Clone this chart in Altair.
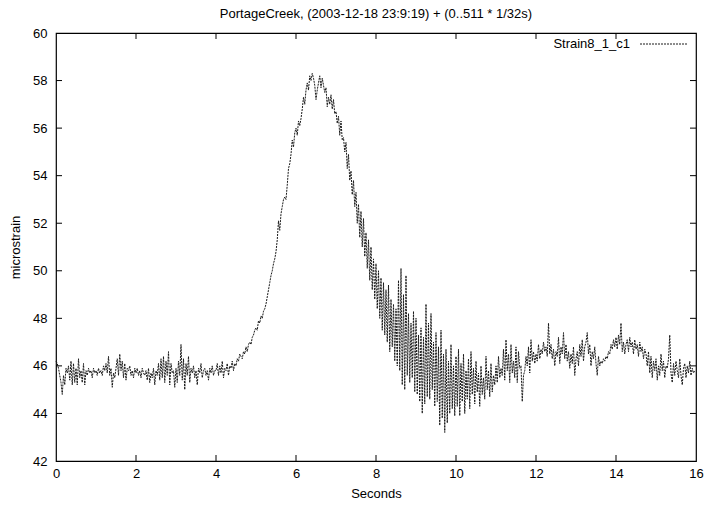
import altair as alt
import pandas as pd

# Strain gauge Strain8_1_c1, sampled every 1/32 s (512 samples, one row per second)
strain_rows = [
    [46.2, 46.1, 45.9, 45.6, 45.3, 44.8, 45.6, 45.2,
     45.9, 45.7, 46.0, 45.4, 46.2, 45.2, 46.1, 45.3,
     45.9, 45.2, 46.3, 45.5, 45.8, 45.3, 46.1, 45.2,
     45.8, 45.6, 45.9, 45.7, 45.8, 45.5, 45.9, 45.7],
    [45.8, 45.6, 45.9, 45.7, 45.8, 45.6, 46.0, 45.8,
     46.1, 45.7, 46.4, 45.6, 45.9, 45.1, 45.7, 45.5,
     45.9, 46.3, 45.6, 46.5, 45.8, 46.2, 45.5, 46.1,
     45.4, 45.9, 45.8, 46.0, 45.6, 45.8, 45.5, 45.9],
    [45.7, 45.9, 45.6, 45.8, 45.5, 45.9, 45.7, 45.6,
     45.8, 45.4, 45.9, 45.3, 45.7, 45.5, 45.9, 45.2,
     45.8, 45.6, 46.1, 45.4, 46.3, 45.5, 46.4, 45.3,
     46.2, 45.6, 46.6, 45.2, 46.1, 45.7, 45.8, 45.1],
    [45.9, 45.3, 46.2, 45.6, 46.9, 45.4, 46.3, 45.0,
     46.1, 45.6, 46.4, 45.3, 45.9, 45.7, 46.0, 45.5,
     45.8, 45.2, 45.9, 45.7, 46.1, 45.5, 45.8, 45.9,
     45.6, 45.8, 45.4, 45.9, 45.7, 46.0, 45.6, 45.8],
    [45.8, 46.1, 45.6, 46.0, 45.7, 46.2, 45.5, 45.9,
     45.8, 46.1, 45.6, 46.0, 45.9, 46.2, 45.8, 46.1,
     46.0, 46.3, 46.2, 46.5, 46.4, 46.3, 46.6, 46.5,
     46.8, 46.6, 46.9, 47.0, 46.9, 47.2, 47.3, 47.5],
    [47.6, 47.5, 47.9, 47.8, 48.1, 48.0, 48.3, 48.4,
     48.6, 48.9, 49.2, 49.5, 49.8, 50.0, 50.3, 50.5,
     50.8, 51.3, 52.1, 51.7, 52.4, 52.7, 53.0, 53.1,
     53.0, 53.6, 54.3, 54.5, 54.9, 55.5, 55.2, 55.8],
    [56.0, 55.7, 56.3, 56.1, 56.4, 56.8, 57.3, 57.0,
     57.6, 57.9, 57.6, 58.2, 58.0, 58.3, 58.1, 57.8,
     57.2, 57.6, 57.9, 58.2, 57.7, 58.1, 57.8, 57.5,
     57.7, 56.9, 57.3, 57.0, 57.4, 56.8, 57.2, 56.6],
    [56.7, 56.2, 56.5, 55.7, 56.3, 55.5, 55.6, 55.0,
     55.4, 54.3, 54.9, 53.8, 54.2, 53.2, 53.8, 52.7,
     53.3, 52.0, 52.8, 51.4, 52.5, 51.0, 52.2, 50.6,
     51.6, 50.1, 51.3, 49.6, 51.0, 49.2, 50.5, 48.8],
    [50.3, 48.4, 50.0, 48.0, 49.7, 47.5, 49.5, 47.3,
     49.2, 47.0, 49.4, 46.6, 48.8, 46.8, 48.6, 46.2,
     48.4, 46.0, 49.6, 45.8, 50.1, 45.2, 49.0, 45.0,
     49.8, 45.6, 48.2, 45.3, 47.8, 45.5, 48.3, 44.9],
    [48.0, 44.8, 47.3, 44.5, 47.6, 44.0, 47.2, 44.4,
     48.6, 44.7, 47.8, 44.6, 48.2, 45.0, 47.0, 44.3,
     47.4, 44.5, 46.8, 43.5, 47.5, 43.8, 46.5, 43.2,
     46.7, 43.6, 46.2, 44.0, 46.9, 44.2, 46.0, 43.9],
    [46.4, 44.3, 46.7, 43.9, 46.1, 44.5, 46.5, 44.0,
     45.8, 44.6, 46.3, 44.2, 46.6, 44.8, 45.9, 44.4,
     46.2, 44.9, 45.7, 44.3, 46.0, 44.8, 45.5, 44.6,
     46.4, 45.0, 45.8, 44.7, 46.1, 44.9, 45.6, 45.2],
    [46.0, 45.3, 46.4, 45.5, 45.9, 45.6, 46.7, 45.4,
     47.1, 45.8, 46.5, 45.3, 46.9, 45.7, 46.2, 45.5,
     46.8, 45.3, 46.6, 45.9, 46.0, 44.5, 45.6, 45.8,
     46.4, 46.0, 46.8, 45.7, 47.1, 46.2, 46.6, 46.1],
    [46.5, 46.2, 46.9, 46.3, 46.7, 46.5, 47.0, 46.6,
     46.8, 46.4, 47.8, 46.5, 46.9, 46.3, 46.7, 46.0,
     46.6, 46.4, 47.2, 46.1, 46.8, 46.5, 47.4, 46.3,
     46.9, 46.2, 46.6, 45.9, 46.5, 46.1, 46.8, 45.6],
    [46.3, 46.6, 46.0, 46.9, 46.4, 47.1, 46.2, 46.8,
     47.0, 47.4, 46.5, 46.9, 46.0, 46.6, 46.3, 46.8,
     46.1, 45.6, 46.4, 46.0, 46.2, 46.1, 46.3, 46.2,
     46.4, 46.3, 46.6, 46.5, 46.9, 46.7, 47.1, 46.8],
    [47.2, 46.7, 47.3, 46.9, 47.8, 46.6, 47.0, 46.5,
     46.9, 47.1, 46.6, 47.2, 46.8, 47.0, 46.5, 47.1,
     46.7, 46.9, 46.4, 47.0, 46.6, 46.8, 46.3, 46.7,
     46.5, 46.0, 46.6, 45.7, 46.4, 45.5, 46.2, 45.8],
    [46.3, 45.4, 46.0, 45.6, 46.5, 45.8, 46.2, 45.5,
     46.0, 45.9, 46.3, 47.3, 45.7, 45.3, 46.1, 45.6,
     46.2, 45.8, 45.5, 46.3, 45.6, 45.2, 45.9, 46.1,
     45.5, 46.0, 45.7, 46.2, 45.6, 45.9, 45.7, 45.8],
]
strain = [v for row in strain_rows for v in row]
seconds = [i / 32 for i in range(len(strain))]
series_name = "Strain8_1_c1"

x_ticks = [0, 2, 4, 6, 8, 10, 12, 14, 16]
y_ticks = [42, 44, 46, 48, 50, 52, 54, 56, 58, 60]
x_inner_ticks = [2, 4, 6, 8, 10, 12, 14]
y_inner_ticks = [44, 46, 48, 50, 52, 54, 56, 58]

W, H = 640, 428
TICK = 6
FONT = "Liberation Sans"
LINE_COLOR = "#1a1a1a"
DASH = [2, 1]

df = pd.DataFrame({"Seconds": seconds, "microstrain": strain})
xt = pd.DataFrame({"Seconds": x_inner_ticks})
yt = pd.DataFrame({"microstrain": y_inner_ticks})
key = pd.DataFrame({"name": [series_name]})

xs = alt.Scale(domain=[0, 16], nice=False, zero=False)
ys = alt.Scale(domain=[42, 60], nice=False, zero=False)

axis_style = dict(ticks=False, domain=False, grid=False, format="d",
                  labelFont=FONT, labelFontSize=13, labelColor="black",
                  titleFont=FONT, titleFontSize=13, titleColor="black",
                  titleFontWeight="normal")
x_axis = alt.Axis(values=x_ticks, labelPadding=6, titlePadding=7,
                  labelFlush=False, **axis_style)
y_axis = alt.Axis(values=y_ticks, labelPadding=9, titlePadding=10, **axis_style)

line = alt.Chart(df).mark_line(strokeWidth=1, strokeDash=DASH, color=LINE_COLOR).encode(
    x=alt.X("Seconds:Q", scale=xs, title="Seconds", axis=x_axis),
    y=alt.Y("microstrain:Q", scale=ys, title="microstrain", axis=y_axis),
)

# gnuplot-style inward ticks, mirrored on all four borders
bottom_ticks = alt.Chart(xt).mark_rule(color="black", strokeWidth=1).encode(
    x=alt.X("Seconds:Q", scale=xs, title="Seconds", axis=x_axis),
    y=alt.value(H), y2=alt.value(H - TICK))
top_ticks = alt.Chart(xt).mark_rule(color="black", strokeWidth=1).encode(
    x=alt.X("Seconds:Q", scale=xs, title="Seconds", axis=x_axis),
    y=alt.value(0), y2=alt.value(TICK))
left_ticks = alt.Chart(yt).mark_rule(color="black", strokeWidth=1).encode(
    y=alt.Y("microstrain:Q", scale=ys, title="microstrain", axis=y_axis),
    x=alt.value(0), x2=alt.value(TICK))
right_ticks = alt.Chart(yt).mark_rule(color="black", strokeWidth=1).encode(
    y=alt.Y("microstrain:Q", scale=ys, title="microstrain", axis=y_axis),
    x=alt.value(W), x2=alt.value(W - TICK))

# key in the top-right corner: series name followed by a sample of the line
key_label = alt.Chart(key).mark_text(
    align="right", baseline="middle", font=FONT, fontSize=13, color="black"
).encode(text="name:N", x=alt.value(W - 66), y=alt.value(11))
key_sample = alt.Chart(key).mark_rule(
    strokeWidth=1, strokeDash=DASH, color=LINE_COLOR
).encode(x=alt.value(W - 56), x2=alt.value(W - 8), y=alt.value(11))

chart = alt.layer(
    line, bottom_ticks, top_ticks, left_ticks, right_ticks, key_label, key_sample
).properties(
    width=W, height=H,
    background="white",
    title=alt.TitleParams("PortageCreek, (2003-12-18 23:9:19) + (0..511 * 1/32s)",
                          font=FONT, fontSize=13, fontWeight="normal", color="black",
                          anchor="middle", offset=6),
    autosize=alt.AutoSizeParams(type="none"),
    padding={"left": 56, "top": 33, "right": 12, "bottom": 45},
).configure_view(
    stroke="black", strokeWidth=1.2
)

chart.save("out.html", embed_options={"renderer": "svg", "actions": False})
